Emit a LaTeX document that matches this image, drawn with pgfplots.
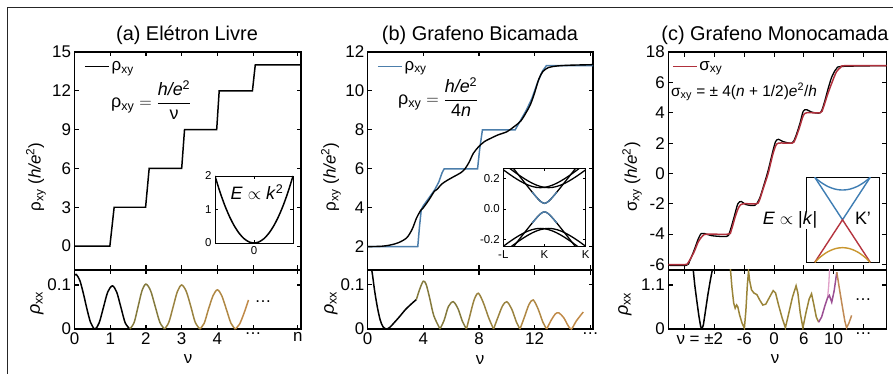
\documentclass[border=0pt]{standalone}
\usepackage{pgfplots}
\pgfplotsset{compat=1.18}
\usepackage{fontspec}
\setmainfont{Liberation Sans}
\newcommand\fA{\fontsize{17}{19}\selectfont}
\newcommand\fT{\fontsize{20}{22}\selectfont}
\newcommand\fF{\fontsize{18}{20}\selectfont}
\newcommand\fS{\fontsize{11.5}{13}\selectfont}
\definecolor{bblue}{HTML}{4C7EAB}
\definecolor{cred}{HTML}{B0303C}
\definecolor{gA}{HTML}{847A3D}
\definecolor{gB}{HTML}{9A8340}
\definecolor{gC}{HTML}{B08844}
\definecolor{gD}{HTML}{C08A48}
\definecolor{gE}{HTML}{9A8438}
\definecolor{cpurp}{HTML}{9B4F93}
\definecolor{cpink}{HTML}{E0A0C8}
\definecolor{corg}{HTML}{C08A55}
\definecolor{iblue}{HTML}{3E7DB3}
\definecolor{ired}{HTML}{B5343F}
\definecolor{iorg}{HTML}{C9962E}
\pgfplotsset{
  base/.style={scale only axis, anchor=south west,
    axis line style={line width=1.1pt},
    every tick/.style={black, line width=1.1pt},
    major tick length=4.5bp, tick align=inside,
    /pgf/number format/assume math mode=true,
    tick label style={font=\fA}},
  inset/.style={base, axis background/.style={fill=white},
    axis line style={line width=0.9pt},
    every tick/.style={black, line width=0.9pt},
    major tick length=3bp, tick label style={font=\fS}},
  leg/.style={legend style={draw=none, fill=none, font=\fA, inner sep=0pt,
    anchor=west, at={#1}, /tikz/every even column/.style={column sep=6bp}},
    legend image code/.code={\draw[##1] (0bp,0bp) -- (24bp,0bp);}},
}
\begin{document}
\begin{tikzpicture}
\useasboundingbox (0,0) rectangle (893bp,374bp);
\draw[line width=1.2bp, black!85] (7.5bp,0bp) -- (7.5bp,366.7bp) -- (893bp,366.7bp);

% titles
\node[font=\fT] at (187bp,338.5bp) {(a) Elétron Livre};
\node[font=\fT] at (480bp,338.5bp) {(b) Grafeno Bicamada};
\node[font=\fT] at (775bp,338.5bp) {(c) Grafeno Monocamada};

% y labels
\node[rotate=90, font=\fA] at (36bp,197bp) {ρ\textsubscript{xy} (\textit{h/e}\textsuperscript{2})};
\node[rotate=90, font=\fA] at (331bp,197bp) {ρ\textsubscript{xy} (\textit{h/e}\textsuperscript{2})};
\node[rotate=90, font=\fA] at (632bp,197bp) {σ\textsubscript{xy} (\textit{h/e}\textsuperscript{2})};
\node[rotate=90, font=\fF] at (37bp,71bp) {\textit{ρ}\textsubscript{xx}};
\node[rotate=90, font=\fF] at (331bp,71bp) {\textit{ρ}\textsubscript{xx}};
\node[rotate=90, font=\fF] at (625bp,70bp) {\textit{ρ}\textsubscript{xx}};
% x labels
\node[font=\fA] at (188bp,15bp) {ν};
\node[font=\fA] at (480bp,14bp) {ν};
\node[font=\fA] at (775bp,15bp) {ν};

% ================= (a) =================
\begin{axis}[base, leg={(rel axis cs:0.042,0.933)}, at={(74.5bp,104bp)}, width=226.5bp, height=218bp,
  xmin=0, xmax=6.34, ymin=-1.85, ymax=15,
  xtick={0,1,2,3,4,5,6.25}, xticklabels={}, ytick={0,3,6,9,12,15}]
\addplot[black, line width=1.5pt] coordinates {(0,0)(0.99,0)(1.11,3)(1.99,3)(2.09,6)(3.0,6)(3.08,9)(3.98,9)(4.05,12)(4.98,12)(5.06,14)(6.34,14)};
\addlegendentry{ρ\textsubscript{xy}}
\end{axis}

\begin{axis}[base, at={(74.5bp,45bp)}, width=226.5bp, height=59bp,
  xmin=0, xmax=6.34, ymin=0, ymax=0.134,
  xtick={0,1,2,3,4,5,6.25}, xticklabels={0,1,2,3,4,…,n}, ytick={0,0.1}, yticklabels={0,0.1}]
\addplot[black, line width=1.5pt, smooth] coordinates {(0,0.122)(0.05,0.124)(0.15,0.11)(0.25,0.08)(0.35,0.045)(0.45,0.015)(0.57,0)(0.69,0.014)(0.81,0.049)(0.93,0.084)(1.06,0.098)(1.18,0.084)(1.3,0.049)(1.42,0.014)(1.55,0)};
\addplot[gA, line width=1.5pt, smooth] coordinates {(1.55,0)(1.67,0.015)(1.78,0.051)(1.89,0.087)(2.0,0.102)(2.13,0.087)(2.26,0.051)(2.39,0.015)(2.52,0)};
\addplot[gB, line width=1.5pt, smooth] coordinates {(2.52,0)(2.64,0.015)(2.76,0.05)(2.88,0.085)(3.0,0.1)(3.13,0.085)(3.26,0.05)(3.38,0.015)(3.51,0)};
\addplot[gC, line width=1.5pt, smooth] coordinates {(3.51,0)(3.63,0.013)(3.75,0.045)(3.88,0.076)(4.0,0.089)(4.12,0.076)(4.25,0.045)(4.38,0.013)(4.5,0)};
\addplot[gD, line width=1.5pt, smooth] coordinates {(4.5,0)(4.62,0.011)(4.75,0.037)(4.87,0.066)};
\end{axis}
\node[font=\fA] at (263bp,72bp) {…};

\begin{axis}[inset, at={(215bp,131bp)}, width=78bp, height=67bp,
  xmin=-1, xmax=1, ymin=0, ymax=2, xtick={0}, ytick={0,1,2}]
\addplot[black, line width=1.5pt, smooth] coordinates {(-1,2)(-0.875,1.531)(-0.75,1.125)(-0.625,0.781)(-0.5,0.5)(-0.375,0.281)(-0.25,0.125)(-0.125,0.031)(0,0)(0.125,0.031)(0.25,0.125)(0.375,0.281)(0.5,0.5)(0.625,0.781)(0.75,1.125)(0.875,1.531)(1,2)};
\end{axis}
\node[font=\fF] at (257bp,182bp) {\textit{E} $\propto$ \textit{k}\textsuperscript{2}};

% formula (a)
\node[font=\fF, anchor=west, inner sep=0pt] at (111bp,274bp) {ρ\textsubscript{xy} $=\displaystyle\frac{\mbox{\textit{h/e}\textsuperscript{2}}}{\mbox{ν}}$};

% ================= (b) =================
\begin{axis}[base, leg={(rel axis cs:0.041,0.933)}, at={(367.7bp,104bp)}, width=225.3bp, height=218bp,
  xmin=0, xmax=16.2, ymin=0.8, ymax=12,
  xtick={0,4,8,12,16}, xticklabels={}, ytick={2,4,6,8,10,12}]
\addplot[bblue, line width=1.5pt] coordinates {(0,2)(3.6,2)(3.72,3.0)(3.85,3.9)(4.0,4.1)(4.4,4.5)(4.8,4.9)(5.1,5.3)(5.35,5.8)(5.5,6.0)(7.9,6.0)(8.05,7.0)(8.25,8.0)(10.6,8.0)(11.0,8.5)(11.4,9.0)(11.8,9.6)(12.2,10.4)(12.55,11.0)(12.85,11.3)(16.2,11.3)};
\addlegendentry{ρ\textsubscript{xy}}
\addplot[black, line width=1.4pt, smooth, forget plot] coordinates {(0,2.0)(1.0,2.02)(1.6,2.08)(2.2,2.2)(2.8,2.45)(3.2,2.9)(3.5,3.45)(3.8,3.85)(4.0,4.0)(4.4,4.4)(4.8,4.85)(5.0,4.95)(5.3,5.2)(5.7,5.4)(6.2,5.6)(6.7,5.8)(7.0,6.0)(7.3,6.35)(7.6,6.8)(8.0,7.15)(8.4,7.4)(8.8,7.55)(9.4,7.75)(10.0,7.9)(10.5,8.15)(11.0,8.45)(11.4,8.9)(11.7,9.3)(12.0,9.9)(12.3,10.6)(12.6,11.0)(13.0,11.2)(13.6,11.28)(14.5,11.32)(16.2,11.35)};
\end{axis}

\begin{axis}[base, at={(367.7bp,45bp)}, width=225.3bp, height=59bp,
  xmin=0, xmax=16.2, ymin=0, ymax=0.132,
  xtick={0,4,8,12,16}, xticklabels={0,4,8,12,…}, ytick={0,0.1}, yticklabels={0,0.1}]
\addplot[black, line width=1.5pt, smooth] coordinates {(0.2,0.15)(0.35,0.12)(0.5,0.085)(0.7,0.048)(0.9,0.02)(1.1,0.005)(1.35,0)(1.6,0.004)(1.9,0.014)(2.3,0.028)(2.7,0.043)(3.1,0.055)(3.5,0.066)};
\addplot[gA, line width=1.5pt, smooth] coordinates {(3.5,0.066)(3.75,0.09)(4.0,0.107)(4.2,0.1)(4.45,0.07)(4.75,0.03)(5.2,0)};
\addplot[gA, line width=1.5pt, smooth] coordinates {(5.2,0)(5.5,0.02)(5.8,0.05)(6.15,0.061)(6.5,0.045)(6.8,0.018)(7.1,0)};
\addplot[gB, line width=1.5pt, smooth] coordinates {(7.1,0)(7.35,0.03)(7.65,0.065)(7.95,0.08)(8.3,0.06)(8.7,0.025)(9.05,0)};
\addplot[gB, line width=1.5pt, smooth] coordinates {(9.05,0)(9.35,0.025)(9.7,0.052)(10.0,0.061)(10.35,0.045)(10.7,0.015)(10.95,0)};
\addplot[gC, line width=1.5pt, smooth] coordinates {(10.95,0)(11.25,0.025)(11.6,0.055)(11.9,0.065)(12.25,0.045)(12.6,0.015)(12.87,0)};
\addplot[gD, line width=1.5pt, smooth] coordinates {(12.87,0)(13.2,0.02)(13.5,0.034)(13.75,0.036)(14.1,0.025)(14.4,0.008)(14.65,0)(15.0,0.018)(15.5,0.038)};
\end{axis}

\begin{axis}[inset, at={(503.3bp,127.3bp)}, width=82.4bp, height=78.4bp,
  xmin=-1, xmax=1, ymin=-0.247, ymax=0.267,
  xtick={-1,0,1}, xticklabels={-L,K,K}, ytick={-0.2,0,0.2}, yticklabels={-0.2,0.0,0.2}]
\addplot[black, line width=1.3pt, smooth] coordinates {(-0.8,0.2824)(-0.7,0.2478)(-0.6,0.2132)(-0.5,0.1789)(-0.4,0.1448)(-0.3,0.1113)(-0.2,0.0792)(-0.1,0.0509)(0,0.037)(0.1,0.0509)(0.2,0.0792)(0.3,0.1113)(0.4,0.1448)(0.5,0.1789)(0.6,0.2132)(0.7,0.2478)(0.8,0.2824)};
\addplot[black, line width=1.3pt, smooth] coordinates {(-0.8,-0.2634)(-0.7,-0.2288)(-0.6,-0.1942)(-0.5,-0.1599)(-0.4,-0.1258)(-0.3,-0.0923)(-0.2,-0.0602)(-0.1,-0.0319)(0,-0.018)(0.1,-0.0319)(0.2,-0.0602)(0.3,-0.0923)(0.4,-0.1258)(0.5,-0.1599)(0.6,-0.1942)(0.7,-0.2288)(0.8,-0.2634)};
\addplot[bblue, line width=1.4pt, smooth] coordinates {(-0.3,0.1113)(-0.2,0.0792)(-0.1,0.0509)(0,0.037)(0.1,0.0509)(0.2,0.0792)(0.3,0.1113)};
\addplot[bblue, line width=1.4pt, smooth] coordinates {(-0.3,-0.0923)(-0.2,-0.0602)(-0.1,-0.0319)(0,-0.018)(0.1,-0.0319)(0.2,-0.0602)(0.3,-0.0923)};
\addplot[black, line width=1.3pt, smooth] coordinates {(-1,0.2988)(-0.9,0.2778)(-0.8,0.2574)(-0.7,0.2376)(-0.6,0.2187)(-0.5,0.2008)(-0.4,0.1844)(-0.3,0.1698)(-0.2,0.1574)(-0.1,0.1480)(0,0.1420)(0.1,0.14)(0.2,0.1420)(0.3,0.1480)(0.4,0.1574)(0.5,0.1698)(0.6,0.1844)(0.7,0.2008)(0.8,0.2187)(0.9,0.2376)(1.0,0.2574)};
\addplot[black, line width=1.3pt, smooth] coordinates {(-1.0,0.2574)(-0.9,0.2376)(-0.8,0.2187)(-0.7,0.2008)(-0.6,0.1844)(-0.5,0.1698)(-0.4,0.1574)(-0.3,0.1480)(-0.2,0.1420)(-0.1,0.14)(0,0.1420)(0.1,0.1480)(0.2,0.1574)(0.3,0.1698)(0.4,0.1844)(0.5,0.2008)(0.6,0.2187)(0.7,0.2376)(0.8,0.2574)(0.9,0.2778)(1,0.2988)};
\addplot[black, line width=1.3pt, smooth] coordinates {(-1,-0.2858)(-0.9,-0.2648)(-0.8,-0.2444)(-0.7,-0.2246)(-0.6,-0.2057)(-0.5,-0.1878)(-0.4,-0.1714)(-0.3,-0.1568)(-0.2,-0.1444)(-0.1,-0.135)(0,-0.129)(0.1,-0.127)(0.2,-0.129)(0.3,-0.135)(0.4,-0.1444)(0.5,-0.1568)(0.6,-0.1714)(0.7,-0.1878)(0.8,-0.2057)(0.9,-0.2246)(1.0,-0.2444)};
\addplot[black, line width=1.3pt, smooth] coordinates {(-1.0,-0.2444)(-0.9,-0.2246)(-0.8,-0.2057)(-0.7,-0.1878)(-0.6,-0.1714)(-0.5,-0.1568)(-0.4,-0.1444)(-0.3,-0.135)(-0.2,-0.129)(-0.1,-0.127)(0,-0.129)(0.1,-0.135)(0.2,-0.1444)(0.3,-0.1568)(0.4,-0.1714)(0.5,-0.1878)(0.6,-0.2057)(0.7,-0.2246)(0.8,-0.2444)(0.9,-0.2648)(1,-0.2858)};
\end{axis}

% formula (b)
\node[font=\fF, anchor=west, inner sep=0pt] at (398bp,277bp) {ρ\textsubscript{xy} $=\displaystyle\frac{\mbox{\textit{h/e}\textsuperscript{2}}}{\mbox{4\textit{n}}}$};

% ================= (c) =================
\begin{axis}[base, leg={(rel axis cs:0.016,0.933)}, at={(668.3bp,104bp)}, width=218.4bp, height=218bp,
  xmin=0.44, xmax=7.79, ymin=-6.36, ymax=8,
  xtick={1,2,3,4,5,6,7}, xticklabels={}, ytick={-6,-4,-2,0,2,4,6,8}, yticklabels={-6,-4,-2,0,2,4,6,18}]
\addplot[black, line width=1.3pt, smooth, forget plot] coordinates {(0.44,-6.05)(1.05,-6.05)(1.15,-5.8)(1.3,-5.1)(1.45,-4.3)(1.55,-3.95)(1.65,-3.95)(1.9,-4.1)(2.4,-4.15)(2.5,-3.9)(2.65,-2.9)(2.78,-2.0)(2.9,-1.85)(3.05,-2.05)(3.35,-2.1)(3.5,-1.7)(3.65,-0.8)(3.8,0.2)(3.95,1.4)(4.05,2.1)(4.15,2.25)(4.3,2.1)(4.6,2.0)(4.72,2.4)(4.87,3.3)(4.98,4.1)(5.1,4.2)(5.25,4.05)(5.55,4.0)(5.68,4.6)(5.82,5.6)(5.95,6.4)(6.1,6.9)(6.3,7.05)(7.79,7.1)};
\addplot[cred, line width=1.5pt, smooth] coordinates {(0.44,-6)(1.0,-6)(1.1,-5.9)(1.3,-5.2)(1.45,-4.5)(1.6,-4.1)(1.75,-4.0)(2.45,-4.0)(2.55,-3.8)(2.7,-2.8)(2.82,-2.2)(2.95,-2.0)(3.4,-2.0)(3.5,-1.8)(3.65,-0.9)(3.8,0)(3.95,1.2)(4.05,1.8)(4.15,2.0)(4.6,2.0)(4.7,2.2)(4.85,3.0)(4.98,3.8)(5.1,4.0)(5.55,4.0)(5.65,4.3)(5.8,5.2)(5.95,6.0)(6.1,6.7)(6.25,7.0)(6.4,7.1)(7.79,7.1)};
\addlegendentry{σ\textsubscript{xy}}
\end{axis}

\begin{axis}[base, at={(668.3bp,45bp)}, width=218.4bp, height=59bp,
  xmin=0.44, xmax=7.79, ymin=0, ymax=1.475,
  xtick={1,2,3,4,5,6,7}, xticklabels={,,-6,0,6,10,…}, ytick={0,1.1}, yticklabels={0,1.1},
  extra x ticks={1.5}, extra x tick labels={ν = ±2}, extra x tick style={major tick length=0pt}]
\addplot[black, line width=1.5pt] coordinates {(1.27,1.55)(1.33,1.1)(1.40,0.7)(1.47,0.32)(1.53,0.06)(1.57,0)(1.62,0.1)(1.69,0.45)(1.77,0.85)(1.85,1.2)(1.94,1.55)};
\addplot[gE, line width=1.5pt] coordinates {(2.52,1.6)(2.58,1.05)(2.64,0.65)(2.69,0.52)(2.74,0.6)(2.78,0.55)(2.84,0.35)(2.92,0.15)(3.0,0.02)(3.05,0.45)(3.10,1.1)(3.14,1.45)(3.18,1.2)(3.24,0.98)(3.32,0.9)(3.42,0.86)(3.52,0.72)(3.62,0.6)(3.72,0.62)(3.85,0.8)(3.97,0.96)(4.05,0.9)(4.15,0.6)(4.27,0.28)(4.38,0.03)(4.48,0.35)(4.62,0.8)(4.74,1.08)(4.80,0.9)(4.88,0.4)(4.97,0.03)(5.07,0.4)(5.18,0.75)(5.26,0.88)(5.34,0.6)(5.42,0.3)(5.5,0.17)};
\addplot[cpink, line width=1.3pt] coordinates {(5.80,0.78)(5.84,1.1)(5.87,1.55)};
\addplot[cpurp, line width=1.5pt] coordinates {(5.5,0.17)(5.6,0.3)(5.71,0.58)(5.8,0.78)(5.86,0.84)(5.94,0.67)(6.02,0.95)(6.11,1.42)};
\addplot[corg, line width=1.5pt] coordinates {(6.11,1.42)(6.2,1.0)(6.3,0.55)(6.38,0.2)(6.44,0.03)(6.52,0.15)(6.61,0.34)};
\end{axis}
\node[font=\fA] at (863bp,74bp) {…};

\begin{axis}[inset, at={(806bp,111.7bp)}, width=73bp, height=85bp,
  xmin=-1, xmax=1, ymin=-1, ymax=1, xtick=\empty, ytick=\empty]
\addplot[iblue, line width=1.4pt, smooth] coordinates {(-0.76,1)(-0.6,0.887)(-0.4,0.783)(-0.2,0.721)(0,0.70)(0.2,0.721)(0.4,0.783)(0.6,0.887)(0.76,1)};
\addplot[iblue, line width=1.4pt] coordinates {(-0.76,1)(0,0)(0.76,1)};
\addplot[ired, line width=1.4pt] coordinates {(-0.76,-1)(0,0)(0.76,-1)};
\addplot[iorg, line width=1.4pt, smooth] coordinates {(-0.76,-1)(-0.6,-0.870)(-0.4,-0.751)(-0.2,-0.679)(0,-0.655)(0.2,-0.679)(0.4,-0.751)(0.6,-0.870)(0.76,-1)};
\end{axis}
\node[font=\fF, fill=white, inner sep=1pt] at (790bp,154bp) {\textit{E} $\propto$ |\textit{k}|};
\node[font=\fF] at (863bp,156bp) {K'};

% formula (c)
\node[font=\fontsize{15.5}{18}\selectfont, anchor=west, inner sep=0pt] at (671bp,282bp) {σ\textsubscript{xy} = ± 4(\textit{n} + 1/2)\textit{e}\textsuperscript{2}/\textit{h}};
\end{tikzpicture}
\end{document}
